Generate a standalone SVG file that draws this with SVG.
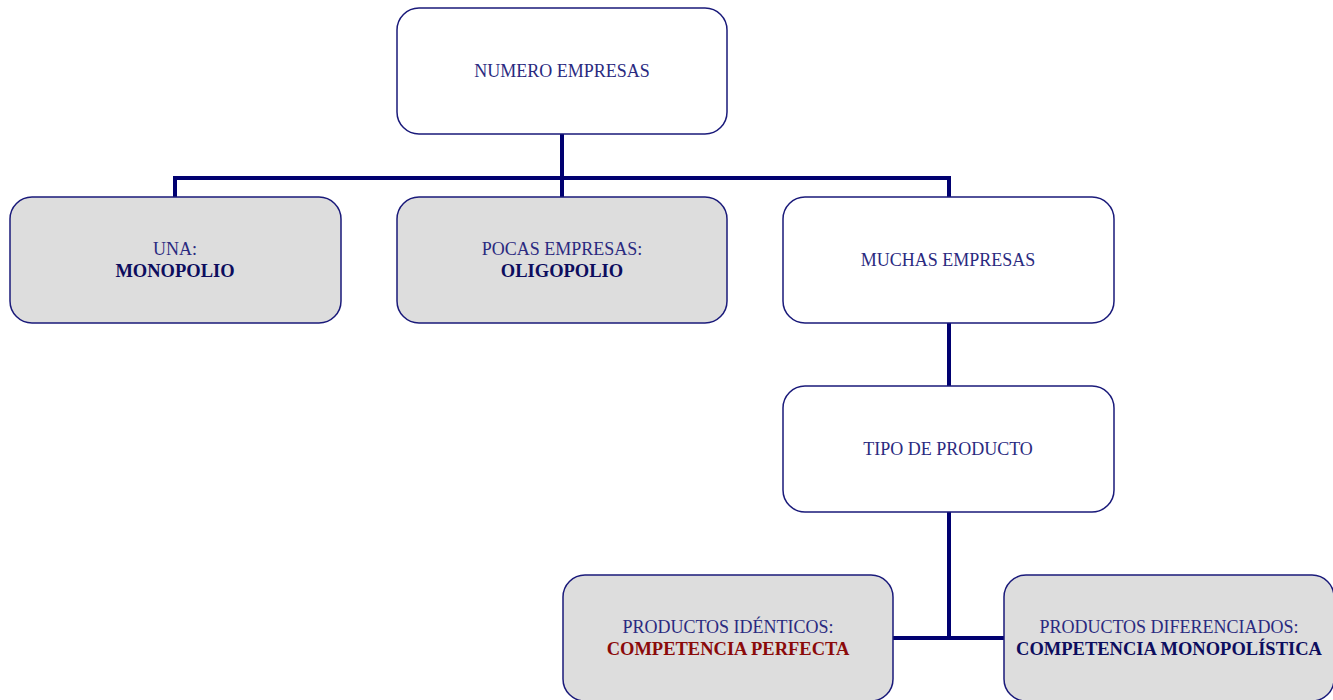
<svg xmlns="http://www.w3.org/2000/svg" width="1333" height="700" viewBox="0 0 1333 700">
<style>
.box{stroke:#1a1a7a;stroke-width:1.5}
.w{fill:#ffffff}
.g{fill:#dddddd}
text{font-family:"Liberation Serif","Times New Roman",serif;font-size:18px;text-anchor:middle}
.t{fill:#2a2a80}
.b{fill:#0d0d5e;font-weight:bold;font-size:18.5px}
.r{fill:#8b0a0a;font-weight:bold;font-size:18.5px}
.c{fill:none;stroke:#000070;stroke-width:4}
</style>
<rect width="1333" height="700" fill="#ffffff"/>
<g id="connectors">
<path class="c" d="M562 134V197M175 197V178H949V197"/>
<path class="c" d="M949 323V386"/>
<path class="c" d="M949 512V638M893 638H1004"/>
</g>
<g id="numero"><rect class="box w" x="397" y="8" width="330" height="126" rx="22"/><text class="t" x="562" y="77">NUMERO EMPRESAS</text></g>
<g id="una"><rect class="box g" x="10" y="197" width="331" height="126" rx="22"/><text class="t" x="175" y="255">UNA:</text><text class="b" x="175" y="277">MONOPOLIO</text></g>
<g id="pocas"><rect class="box g" x="397" y="197" width="330" height="126" rx="22"/><text class="t" x="562" y="255">POCAS EMPRESAS:</text><text class="b" x="562" y="277">OLIGOPOLIO</text></g>
<g id="muchas"><rect class="box w" x="783" y="197" width="331" height="126" rx="22"/><text class="t" x="948" y="266">MUCHAS EMPRESAS</text></g>
<g id="tipo"><rect class="box w" x="783" y="386" width="331" height="126" rx="22"/><text class="t" x="948" y="455">TIPO DE PRODUCTO</text></g>
<g id="identicos"><rect class="box g" x="563" y="575" width="330" height="126" rx="22"/><text class="t" x="728" y="633">PRODUCTOS IDÉNTICOS:</text><text class="r" x="728" y="655">COMPETENCIA PERFECTA</text></g>
<g id="diferenciados"><rect class="box g" x="1004" y="575" width="330" height="126" rx="22"/><text class="t" x="1169" y="633">PRODUCTOS DIFERENCIADOS:</text><text class="b" x="1169" y="655">COMPETENCIA MONOPOLÍSTICA</text></g>
</svg>
